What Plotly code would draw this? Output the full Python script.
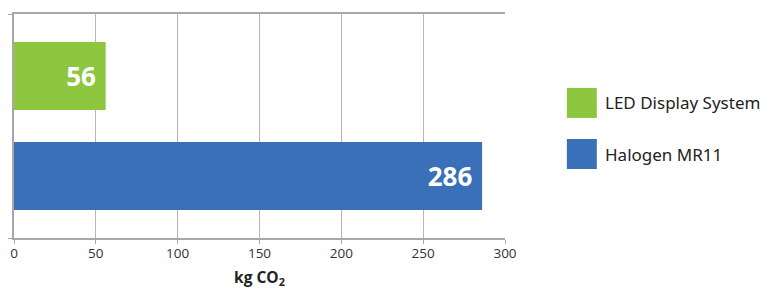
import plotly.graph_objects as go

series_names = ["Halogen MR11", "LED Display System"]
series_values = [286, 56]
series_colors = ["#3a70b8", "#8dc63f"]
category = [""]
x_ticks = [0, 50, 100, 150, 200, 250, 300]

PAD = "\u00a0"

fig = go.Figure()
for name, val, col in zip(series_names, series_values, series_colors):
    fig.add_trace(go.Bar(
        y=category, x=[val], name=name, orientation="h",
        marker=dict(color=col, line=dict(width=0)),
        text=[f"{val}{PAD}"], textposition="inside", insidetextanchor="end",
        textfont=dict(family="Open Sans", size=26, color="white", weight="bold"),
        cliponaxis=False, showlegend=False,
    ))

# legend drawn as swatches + labels (LED on top)
legend_items = list(zip(series_names, series_colors))[::-1]
for i, (name, col) in enumerate(legend_items):
    y_top = 0.670 - i * 0.228
    fig.add_shape(type="rect", xref="paper", yref="paper",
                  x0=1.126, x1=1.187, y0=y_top - 0.134, y1=y_top,
                  fillcolor=col, line=dict(width=0))
    fig.add_annotation(xref="paper", yref="paper", x=1.199, y=y_top - 0.067,
                       text=name, showarrow=False, xanchor="left", yanchor="middle",
                       font=dict(family="Noto Sans", size=17, color="#222"))

fig.update_layout(
    width=778, height=289,
    margin=dict(l=14, r=273, t=14, b=51, autoexpand=False),
    paper_bgcolor="white", plot_bgcolor="white",
    barmode="group", bargap=0.107, bargroupgap=0.32,
    font=dict(family="Open Sans", color="#333"),
    xaxis=dict(
        range=[0, 300], tickvals=x_ticks, ticks="outside", ticklen=4,
        tickcolor="#a8a8a8", showgrid=True, gridcolor="#b8b8b8", gridwidth=1,
        showline=True, linecolor="#a8a8a8", linewidth=1.5, mirror=True,
        zeroline=False, tickfont=dict(size=13.5, color="#333"), automargin=False,
        ticklabelstandoff=-2,
        title=dict(text="<b>kg CO<sub>2</sub></b>", font=dict(size=15.5, color="#222"), standoff=12),
    ),
    yaxis=dict(
        showticklabels=False, ticks="outside", tickson="boundaries", ticklen=4,
        tickcolor="#a8a8a8", showline=True, linecolor="#a8a8a8", linewidth=1.5,
        showgrid=False, zeroline=False, automargin=False,
    ),
)

fig.write_html("out.html", config={"displayModeBar": False},
               post_script="document.body.style.margin='0';")
